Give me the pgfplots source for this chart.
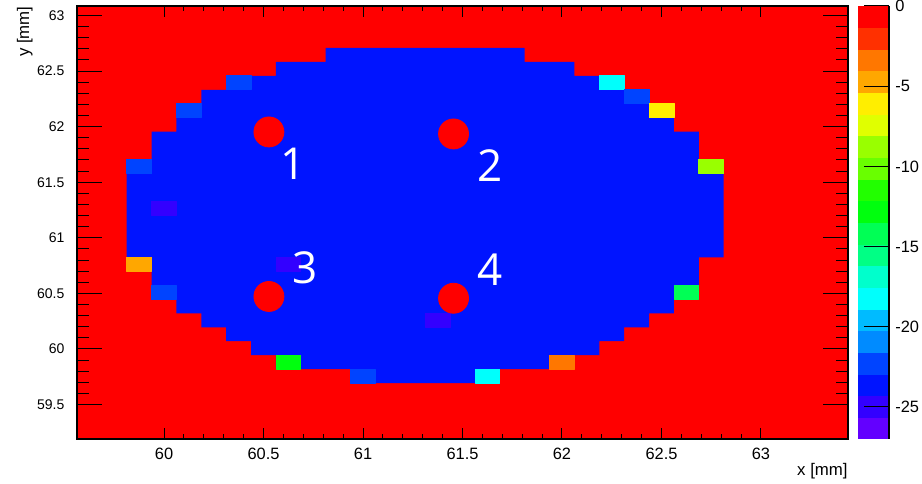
\documentclass[border=0pt]{standalone}
\usepackage{pgfplots}
\pgfplotsset{compat=1.18}
\usepgfplotslibrary{patchplots}
\usepackage{fontspec}
\setmainfont{Liberation Sans}
\newfontfamily\markfont{Open Sans}

% 20-level rainbow palette (violet = low, red = high)
\definecolor{lv02}{RGB}{0,20,255}
\definecolor{lv19}{RGB}{255,0,0}

\pgfplotsset{
  frame/.style={
    at={(0pt,0pt)}, anchor=south west,
    scale only axis, width=385.5pt, height=216.5pt,
    xmin=59.5625, xmax=63.4375, ymin=59.19, ymax=63.085,
    axis line style={black, line width=0.6pt},
    tick align=inside,
    tick style={black, line width=0.5pt},
    /pgf/number format/assume math mode=true,
  },
}

\begin{document}
\begin{tikzpicture}
\fill[white, use as bounding box] (-38.5pt,-22pt) rectangle (422.5pt,219.5pt);
% map, y ticks and colour scale
\begin{axis}[
  frame,
  axis on top,
  xtick=\empty,
  ytick={59.5,60,...,63}, minor y tick num=4,
  ytick pos=both, yticklabel pos=left,
  tickwidth=12.75pt, subtickwidth=6pt,
  yticklabel style={font=\fontsize{7}{8}\selectfont, xshift=-2.8pt},
  ylabel={y [mm]},
  ylabel style={at={(axis description cs:-0.0783,1)}, anchor=north east, inner sep=0pt,
    font=\fontsize{8.4}{10}\selectfont},
  colormap={rootpal}{
    rgb255(0)=(99,0,255)   rgb255(1)=(51,0,255)   rgb255(2)=(0,20,255)   rgb255(3)=(0,68,255)
    rgb255(4)=(0,139,255)  rgb255(5)=(0,187,255)  rgb255(6)=(0,255,252)  rgb255(7)=(0,255,204)
    rgb255(8)=(0,255,133)  rgb255(9)=(0,255,85)   rgb255(10)=(0,255,14)  rgb255(11)=(34,255,0)
    rgb255(12)=(105,255,0) rgb255(13)=(153,255,0) rgb255(14)=(224,255,0) rgb255(15)=(255,238,0)
    rgb255(16)=(255,167,0) rgb255(17)=(255,119,0) rgb255(18)=(255,48,0)  rgb255(19)=(255,0,0)
    rgb255(20)=(255,0,0)},
  colormap access=piecewise constant,
  point meta min=-27, point meta max=0,
  colorbar,
  colorbar style={
    at={(parent axis.north east)}, anchor=north west, xshift=-3.5pt,
    scale only axis, width=15.5pt, height=216.5pt,
    ytick={0,-5,-10,-15,-20,-25},
    yticklabels={0,-5,-10,-15,-20,-25},
    minor y tick num=0,
    axis x line=none, axis y line*=right,
    y axis line style={-, black, line width=0.6pt},
    ytick align=inside,
    tick style={black, line width=0.5pt},
    tickwidth=12.5pt,
    yticklabel style={font=\fontsize{8.2}{9}\selectfont, xshift=-0.4pt},
  },
]
% empty bins (value 0)
\addplot[fill=lv19, draw=none] coordinates {
  (59.5625,59.19) (63.4375,59.19) (63.4375,63.085) (59.5625,63.085)} -- cycle;

% bins at about -23.6
\addplot[fill=lv02, draw=none] coordinates {
  (60.8125,62.7081) (61.8125,62.7081) (61.8125,62.5824) (62.0625,62.5824)
  (62.0625,62.4568) (62.3125,62.4568) (62.3125,62.3311) (62.4375,62.3311)
  (62.4375,62.2055) (62.5625,62.2055) (62.5625,61.9542) (62.6875,61.9542)
  (62.6875,61.7029) (62.8125,61.7029) (62.8125,60.8234) (62.6875,60.8234)
  (62.6875,60.4465) (62.5625,60.4465) (62.5625,60.3208) (62.4375,60.3208)
  (62.4375,60.1952) (62.3125,60.1952) (62.3125,60.0695) (62.1875,60.0695)
  (62.1875,59.9439) (62.0625,59.9439) (62.0625,59.8182) (61.6875,59.8182)
  (61.6875,59.6926) (60.9375,59.6926) (60.9375,59.8182) (60.5625,59.8182)
  (60.5625,59.9439) (60.4375,59.9439) (60.4375,60.0695) (60.3125,60.0695)
  (60.3125,60.1952) (60.1875,60.1952) (60.1875,60.3208) (60.0625,60.3208)
  (60.0625,60.4465) (59.9375,60.4465) (59.9375,60.6977) (59.8125,60.6977)
  (59.8125,61.7029) (59.9375,61.7029) (59.9375,61.9542) (60.0625,61.9542)
  (60.0625,62.2055) (60.1875,62.2055) (60.1875,62.3311) (60.3125,62.3311)
  (60.3125,62.4568) (60.5625,62.4568) (60.5625,62.5824) (60.8125,62.5824)} -- cycle;

% individual bins with other values
\addplot[patch, patch type=rectangle, shader=flat, point meta=explicit]
  table[meta=z] {
x y z
60.3125 62.3311 -22.3
60.4375 62.3311 -22.3
60.4375 62.4568 -22.3
60.3125 62.4568 -22.3
62.1875 62.3311 -18.2
62.3125 62.3311 -18.2
62.3125 62.4568 -18.2
62.1875 62.4568 -18.2
62.3125 62.2055 -22.3
62.4375 62.2055 -22.3
62.4375 62.3311 -22.3
62.3125 62.3311 -22.3
60.0625 62.0798 -22.3
60.1875 62.0798 -22.3
60.1875 62.2055 -22.3
60.0625 62.2055 -22.3
62.4375 62.0798 -6.1
62.5625 62.0798 -6.1
62.5625 62.2055 -6.1
62.4375 62.2055 -6.1
59.8125 61.5773 -22.3
59.9375 61.5773 -22.3
59.9375 61.7029 -22.3
59.8125 61.7029 -22.3
62.6875 61.5773 -8.8
62.8125 61.5773 -8.8
62.8125 61.7029 -8.8
62.6875 61.7029 -8.8
59.9375 61.2003 -25.0
60.0625 61.2003 -25.0
60.0625 61.3260 -25.0
59.9375 61.3260 -25.0
59.8125 60.6977 -4.7
59.9375 60.6977 -4.7
59.9375 60.8234 -4.7
59.8125 60.8234 -4.7
60.5625 60.6977 -25.0
60.6875 60.6977 -25.0
60.6875 60.8234 -25.0
60.5625 60.8234 -25.0
59.9375 60.4465 -22.3
60.0625 60.4465 -22.3
60.0625 60.5721 -22.3
59.9375 60.5721 -22.3
62.5625 60.4465 -14.2
62.6875 60.4465 -14.2
62.6875 60.5721 -14.2
62.5625 60.5721 -14.2
61.3125 60.1952 -25.0
61.4375 60.1952 -25.0
61.4375 60.3208 -25.0
61.3125 60.3208 -25.0
60.5625 59.8182 -12.8
60.6875 59.8182 -12.8
60.6875 59.9439 -12.8
60.5625 59.9439 -12.8
61.9375 59.8182 -3.4
62.0625 59.8182 -3.4
62.0625 59.9439 -3.4
61.9375 59.9439 -3.4
60.9375 59.6926 -22.3
61.0625 59.6926 -22.3
61.0625 59.8182 -22.3
60.9375 59.8182 -22.3
61.5625 59.6926 -18.2
61.6875 59.6926 -18.2
61.6875 59.8182 -18.2
61.5625 59.8182 -18.2
};

% marked positions
\addplot[only marks, color=lv19, mark=*, mark size=7.5pt, mark options={fill=lv19, draw=lv19}]
  coordinates {(60.527,61.952) (61.455,61.934) (60.527,60.472) (61.455,60.456)};

\node[text=white, font=\markfont\fontsize{22}{22}\selectfont] at (axis cs:60.648,61.664) {1};
\node[text=white, font=\markfont\fontsize{22}{22}\selectfont] at (axis cs:61.637,61.646) {2};
\node[text=white, font=\markfont\fontsize{22}{22}\selectfont] at (axis cs:60.708,60.728) {3};
\node[text=white, font=\markfont\fontsize{22}{22}\selectfont] at (axis cs:61.638,60.715) {4};
\end{axis}

% x ticks on top of the same frame, with their own tick length
\begin{axis}[
  frame,
  ytick=\empty,
  xtick={60,60.5,...,63}, minor x tick num=4,
  xtick pos=both, xticklabel pos=lower,
  tickwidth=5.5pt, subtickwidth=2.75pt,
  xticklabel style={font=\fontsize{8.2}{9}\selectfont, yshift=-0.75pt},
  xlabel={x [mm]},
  xlabel style={at={(axis description cs:1,-0.0554)}, anchor=north east, inner sep=0pt,
    font=\fontsize{8.4}{10}\selectfont},
]
\end{axis}
\end{tikzpicture}
\end{document}
